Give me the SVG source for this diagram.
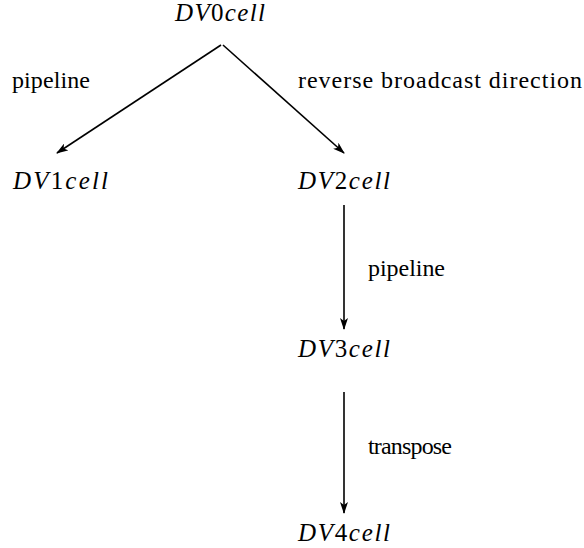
<svg xmlns="http://www.w3.org/2000/svg" width="584" height="548" viewBox="0 0 584 548">
<defs>
<marker id="ah" markerWidth="12" markerHeight="8" refX="11" refY="4" orient="auto" markerUnits="userSpaceOnUse">
<path d="M0,0 L12,4 L0,8 L3,4 Z" fill="#000"/>
</marker>
<style>
text{font-family:'Liberation Serif','Times New Roman','DejaVu Serif',serif;fill:#000}
.n{font-size:25px;font-style:italic}
.u{font-style:normal}
.l{font-size:24px}
.c{stroke:#000;stroke-width:1.6;fill:none;marker-end:url(#ah)}
</style>
</defs>
<rect width="584" height="548" fill="#fff"/>
<g id="connectors">
<line class="c" x1="221" y1="45" x2="57" y2="153"/>
<line class="c" x1="223" y1="45" x2="344" y2="153"/>
<line class="c" x1="344" y1="205" x2="344" y2="329"/>
<line class="c" x1="344" y1="392" x2="344" y2="513"/>
</g>
<g id="labels">
<text class="l" x="12" y="88" textLength="78" lengthAdjust="spacing">pipeline</text>
<text class="l" x="298" y="88" textLength="284" lengthAdjust="spacing">reverse broadcast direction</text>
<text class="l" x="368" y="276" textLength="77" lengthAdjust="spacing">pipeline</text>
<text class="l" x="368" y="454" textLength="84" lengthAdjust="spacing">transpose</text>
</g>
<g id="DV0cell"><text class="n" x="175" y="21" textLength="90" lengthAdjust="spacing">DV<tspan class="u">0</tspan>cell</text></g>
<g id="DV1cell"><text class="n" x="13" y="189" textLength="95" lengthAdjust="spacing">DV<tspan class="u">1</tspan>cell</text></g>
<g id="DV2cell"><text class="n" x="298" y="189" textLength="92" lengthAdjust="spacing">DV<tspan class="u">2</tspan>cell</text></g>
<g id="DV3cell"><text class="n" x="298" y="357" textLength="92" lengthAdjust="spacing">DV<tspan class="u">3</tspan>cell</text></g>
<g id="DV4cell"><text class="n" x="298" y="541" textLength="92" lengthAdjust="spacing">DV<tspan class="u">4</tspan>cell</text></g>
</svg>
